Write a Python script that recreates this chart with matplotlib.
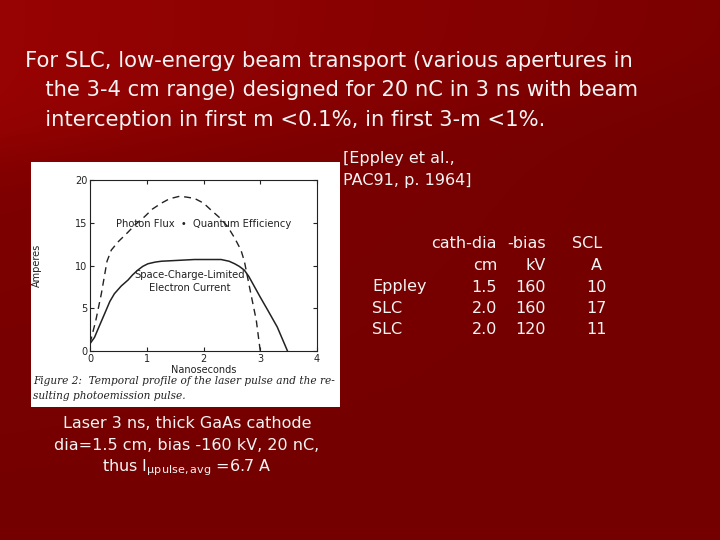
import numpy as np
import matplotlib.pyplot as plt
from matplotlib.patches import Rectangle

flux_t = [0.0, 0.1, 0.2, 0.3, 0.375, 0.5, 0.67, 0.8, 0.96, 1.1, 1.26, 1.4, 1.58,
          1.7, 1.84, 2.0, 2.13, 2.3, 2.43, 2.55, 2.66, 2.72, 2.81, 2.93, 3.0]
flux_a = [0.9, 3.5, 6.7, 10.5, 11.8, 12.8, 13.9, 14.8, 15.7, 16.6, 17.3, 17.8, 18.1,
          18.0, 17.85, 17.3, 16.5, 15.5, 14.5, 13.2, 11.8, 10.5, 7.5, 3.6, 0.0]
scl_t = [0.0, 0.08, 0.15, 0.26, 0.35, 0.43, 0.55, 0.67, 0.75, 0.84, 0.93, 1.02, 1.15,
         1.26, 1.55, 1.84, 2.31, 2.45, 2.55, 2.63, 2.72, 2.8, 2.9, 3.0, 3.13, 3.3, 3.48]
scl_a = [0.85, 1.6, 2.7, 4.4, 5.8, 6.7, 7.6, 8.3, 8.9, 9.45, 9.9, 10.2, 10.4,
         10.5, 10.6, 10.7, 10.7, 10.5, 10.2, 9.9, 9.45, 8.7, 7.5, 6.3, 4.8, 2.8, 0.0]

header = ["For SLC, low-energy beam transport (various apertures in",
          "   the 3-4 cm range) designed for 20 nC in 3 ns with beam",
          "   interception in first m <0.1%, in first 3-m <1%."]
col_heads = ["cath-dia", "-bias", "SCL"]
col_units = ["cm", "kV", "A"]
row_names = ["Eppley", "SLC", "SLC"]
cath_dia = ["1.5", "2.0", "2.0"]
bias_kv = ["160", "160", "120"]
scl_amp = ["10", "17", "11"]

W, H = 720, 540
fig = plt.figure(figsize=(7.2, 5.4), dpi=100)

# background: dark red, brighter swoosh in the top-left
bg = fig.add_axes([0, 0, 1, 1])
yy, xx = np.mgrid[0:H, 0:W]
band = 1 / (1 + np.exp((yy - (150 - 0.1 * xx)) / 18.0))
fade = np.clip(1 - xx / W * 0.8, 0, 1) * band
base = np.array([0x74, 0x00, 0x00]) / 255
lite = np.array([0x98, 0x03, 0x03]) / 255
img = base[None, None, :] + (lite - base)[None, None, :] * fade[..., None]
img = img + (1 - band[..., None]) * np.clip(1 - yy / H, 0, 1)[..., None] \
    * np.clip(1 - xx / W, 0, 1)[..., None] * 0.06 * np.array([1, 0, 0])
bg.imshow(np.clip(img, 0, 1), extent=[0, W, H, 0], aspect='auto')
bg.set_xlim(0, W)
bg.set_ylim(H, 0)
bg.axis('off')

white = '#f4f4f4'
for i, line in enumerate(header):
    bg.text(25, 61 + i * 29.5, line, color=white, fontsize=15.2, va='center',
            ha='left', family='DejaVu Sans')

bg.text(343, 158, "[Eppley et al.,", color=white, fontsize=11.5, va='center')
bg.text(343, 181, "PAC91, p. 1964]", color=white, fontsize=11.5, va='center')

col_x = [497, 546, 602]
for cx, h, u in zip(col_x, col_heads, col_units):
    bg.text(cx, 243, h, color=white, fontsize=11.5, ha='right', va='center')
    bg.text(cx, 265, u, color=white, fontsize=11.5, ha='right', va='center')
val_x = [497, 546, 607]
for i, name in enumerate(row_names):
    y = 287 + i * 21.5
    bg.text(372, y, name, color=white, fontsize=11.5, ha='left', va='center')
    for cx, v in zip(val_x, [cath_dia[i], bias_kv[i], scl_amp[i]]):
        bg.text(cx, y, v, color=white, fontsize=11.5, ha='right', va='center')

bg.text(187, 423, "Laser 3 ns, thick GaAs cathode", color=white, fontsize=11.5,
        ha='center', va='center')
bg.text(187, 446, "dia=1.5 cm, bias -160 kV, 20 nC,", color=white, fontsize=11.5,
        ha='center', va='center')
bg.text(187, 468, r"thus I$_{\mathregular{\mu pulse,avg}}$ =6.7 A", color=white,
        fontsize=11.5, ha='center', va='center')

# scanned figure panel
bg.add_patch(Rectangle((31, 162), 309, 245, facecolor='white', edgecolor='none'))
bg.text(33, 381, "Figure 2:  Temporal profile of the laser pulse and the re-",
        family='DejaVu Serif', style='italic', fontsize=7.6, color='#222222', va='center')
bg.text(33, 396, "sulting photoemission pulse.",
        family='DejaVu Serif', style='italic', fontsize=7.6, color='#222222', va='center')

ax = fig.add_axes([90 / W, 1 - 351 / H, 227 / W, 171 / H])
ax.plot(flux_t, flux_a, color='#222222', lw=1.0, ls=(0, (5, 3.5)))
ax.plot(scl_t, scl_a, color='#222222', lw=1.1)
ax.set_xlim(0, 4)
ax.set_ylim(0, 20)
ax.set_xticks([0, 1, 2, 3, 4])
ax.set_yticks([0, 5, 10, 15, 20])
ax.tick_params(direction='in', length=3, labelsize=7, colors='#222222',
               top=True, right=True, pad=2)
for s in ax.spines.values():
    s.set_color('#222222')
    s.set_linewidth(0.8)
ax.set_xlabel("Nanoseconds", fontsize=7, labelpad=1, color='#222222')
ax.set_ylabel("Amperes", fontsize=7, labelpad=24, color='#222222')
ax.text(0.46, 14.9, "Photon Flux  \u2022  Quantum Efficiency", fontsize=7.2,
        va='center', color='#222222')
ax.text(1.75, 8.9, "Space-Charge-Limited", fontsize=7.2, ha='center',
        va='center', color='#222222')
ax.text(1.75, 7.4, "Electron Current", fontsize=7.2, ha='center',
        va='center', color='#222222')

fig.savefig("out.png", dpi=100)
